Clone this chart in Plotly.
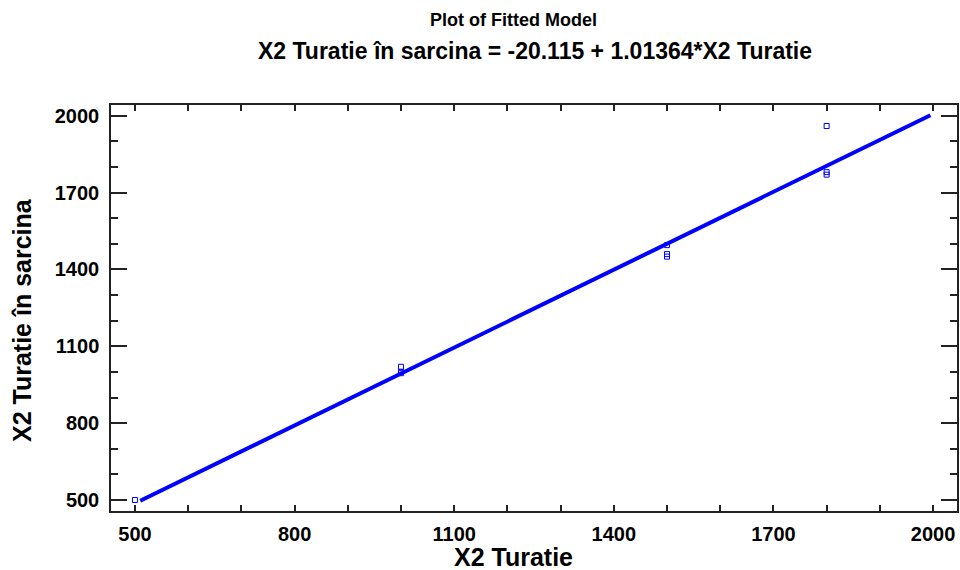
import plotly.graph_objects as go

# observed data
x_obs = [500, 1000, 1000, 1000, 1500, 1500, 1500, 1800, 1800, 1800]
y_obs = [500, 1020, 1000, 995, 1495, 1460, 1450, 1960, 1780, 1770]

# fitted model
intercept = -20.115
slope = 1.01364
x_fit = [510, 1995]
y_fit = [intercept + slope * v for v in x_fit]

x_ticks = [500, 800, 1100, 1400, 1700, 2000]
y_ticks = [500, 800, 1100, 1400, 1700, 2000]

FONT = "Liberation Sans, Arial, sans-serif"
BLUE = "#0000ff"
W, H = 960, 570
L, R, T, B = 111, 3, 105, 59
PH = H - T - B
PW = W - L - R

fig = go.Figure()
fig.add_trace(go.Scatter(x=x_fit, y=y_fit, mode="lines",
                         line=dict(color=BLUE, width=4), showlegend=False))
fig.add_trace(go.Scatter(x=x_obs, y=y_obs, mode="markers",
                         marker=dict(symbol="square-open", size=5, color=BLUE,
                                     line=dict(width=1, color=BLUE)),
                         showlegend=False))

axis_common = dict(
    showgrid=False, zeroline=False, showline=True, linecolor="#222222", linewidth=1.5,
    mirror="allticks", ticks="inside", tickcolor="#222222", tickwidth=1.5,
    automargin=False,
    tickfont=dict(family=FONT, size=20, color="black", weight="bold"),
)

fig.update_layout(
    width=W, height=H,
    margin=dict(l=L, r=R, t=T, b=B),
    paper_bgcolor="white", plot_bgcolor="white",
    xaxis=dict(range=[455, 2045], tickvals=x_ticks, ticklen=6, ticklabelstandoff=4,
               minor=dict(dtick=100, tick0=500, ticklen=6, ticks="inside",
                          tickcolor="#222222", tickwidth=1.5),
               **axis_common),
    yaxis=dict(range=[457, 2042], tickvals=y_ticks, ticklen=16, ticklabelstandoff=6,
               minor=dict(dtick=100, tick0=500, ticklen=7, ticks="inside",
                          tickcolor="#222222", tickwidth=1.5),
               **axis_common),
)

def px_y(py):
    return 1 - (py - T) / PH

def px_x(px):
    return (px - L) / PW

fig.add_annotation(text="Plot of Fitted Model", xref="paper", yref="paper",
                   x=px_x(513), y=px_y(20), xanchor="center", yanchor="middle",
                   showarrow=False,
                   font=dict(family=FONT, size=18, color="black", weight="bold"))
fig.add_annotation(text="X2 Turatie în sarcina = -20.115 + 1.01364*X2 Turatie",
                   xref="paper", yref="paper", x=px_x(535), y=px_y(51),
                   xanchor="center", yanchor="middle", showarrow=False,
                   font=dict(family=FONT, size=23, color="black", weight="bold"))
fig.add_annotation(text="X2 Turatie", xref="paper", yref="paper",
                   x=px_x(513), y=px_y(557), xanchor="center", yanchor="middle",
                   showarrow=False,
                   font=dict(family=FONT, size=25, color="black", weight="bold"))
fig.add_annotation(text="X2 Turatie în sarcina", xref="paper", yref="paper",
                   x=px_x(22), y=px_y(320), xanchor="center", yanchor="middle",
                   textangle=-90, showarrow=False,
                   font=dict(family=FONT, size=25, color="black", weight="bold"))

fig.write_html("out.html", config={"displayModeBar": False},
               post_script="document.body.style.margin='0';document.body.style.overflow='hidden';")
